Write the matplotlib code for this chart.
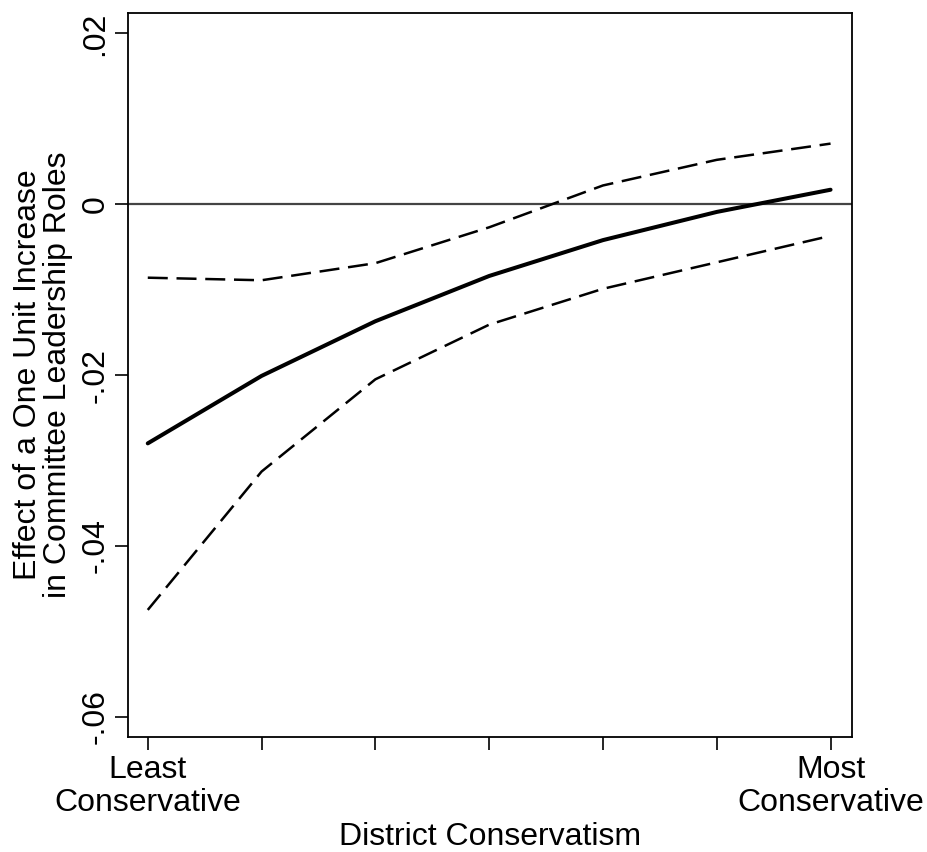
import numpy as np
import matplotlib.pyplot as plt

plt.rcParams['font.family'] = ['Liberation Sans', 'DejaVu Sans']

# marginal effect at 7 levels of district conservatism
levels = [0, 1, 2, 3, 4, 5, 6]
effect = [-0.0280, -0.0201, -0.0137, -0.0084, -0.0042, -0.0009, 0.0017]
upper = [-0.0086, -0.0089, -0.0069, -0.0027, 0.0022, 0.0052, 0.0071]
lower = [-0.0475, -0.0313, -0.0205, -0.0141, -0.0099, -0.0068, -0.0037]

yticks = [0.02, 0, -0.02, -0.04, -0.06]
ytick_labels = ['.02', '0', '-.02', '-.04', '-.06']
xtick_labels = ['Least\nConservative', '', '', '', '', '', 'Most\nConservative']

fs = 23

fig = plt.figure(figsize=(9.27, 8.52), dpi=100)
ax = fig.add_axes([0.1378, 0.1353, 0.781, 0.8494])

ax.axhline(0, color='#444444', lw=1.6, zorder=1)
ax.plot(levels, effect, color='black', lw=2.9, solid_capstyle='round', zorder=3)
ax.plot(levels, upper, color='black', lw=1.8, dashes=(8, 3.5), zorder=2)
ax.plot(levels, lower, color='black', lw=1.8, dashes=(8, 3.5), zorder=2)

ax.set_xlim(-0.176, 6.186)
ax.set_ylim(-0.06235, 0.02239)

ax.set_yticks(yticks)
ax.set_yticklabels(ytick_labels, rotation=90, va='center', fontsize=fs)
ax.set_xticks(levels)
ax.set_xticklabels(xtick_labels, fontsize=fs, linespacing=1.1)

ax.tick_params(axis='both', direction='out', length=9.5, width=1.2, colors='black')
ax.tick_params(axis='y', pad=3)
ax.tick_params(axis='x', pad=4)

for s in ax.spines.values():
    s.set_linewidth(1.3)

ax.set_ylabel('Effect of a One Unit Increase\nin Committee Leadership Roles',
              fontsize=fs, linespacing=1.0, labelpad=5)
ax.set_xlabel('District Conservatism', fontsize=fs, labelpad=3)

fig.savefig('out.png', dpi=100)
